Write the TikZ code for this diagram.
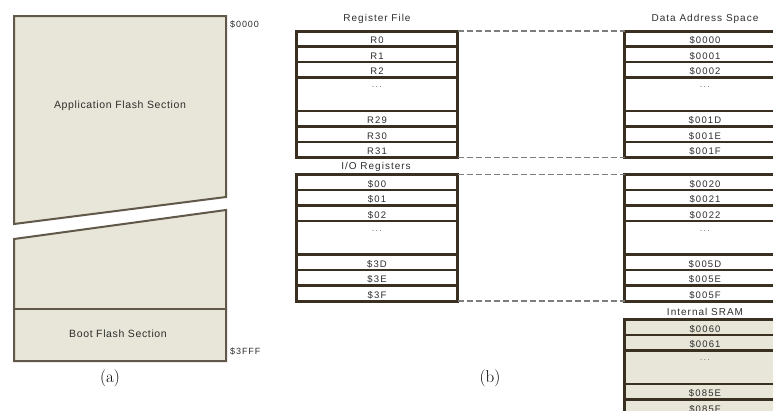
\documentclass[tikz,border=0pt]{standalone}
\usepackage{fontspec}
\newfontfamily\sansA[LetterSpace=6]{Liberation Sans}
\newfontfamily\sansB[LetterSpace=10]{Liberation Sans}
\newfontfamily\sansC[LetterSpace=12]{Liberation Sans}
\definecolor{dk}{RGB}{58,48,34}
\definecolor{abord}{RGB}{96,88,72}
\definecolor{beige}{RGB}{232,230,216}
\definecolor{txt}{RGB}{45,45,45}
\definecolor{dashc}{RGB}{125,125,125}
\begin{document}
\begin{tikzpicture}[x=1pt,y=-1pt,
  secA/.style={draw=abord,line width=2,fill=beige,line join=miter},
  lbl/.style={font=\sansA\fontsize{10.5}{11}\selectfont,text=txt,inner sep=0},
  addr/.style={font=\sansB\fontsize{9}{10}\selectfont,text=txt,inner sep=0},
  ttl/.style={font=\sansB\fontsize{10}{11}\selectfont,text=txt,inner sep=0},
  capt/.style={font=\fontsize{17}{18}\selectfont,text=black,inner sep=0},
  cell/.style={draw=dk,line width=2.5,fill=white,minimum width=161,minimum height=15.5,
    inner sep=0,outer sep=0,text height=10,text depth=0,
    font=\sansC\fontsize{9.5}{10}\selectfont,text=txt},
  ecell/.style={cell,minimum height=33.5,text height=10,text depth=23.5,text=gray},
  scell/.style={cell,fill=beige},
  secell/.style={ecell,fill=beige},
  frame/.style={draw=dk,line width=3,minimum width=161,inner sep=0,outer sep=0},
  dsh/.style={draw=dashc,line width=1.2,dash pattern=on 6.5pt off 2.5pt}]
\useasboundingbox (0,0) rectangle (773,410);
\clip (0,0) rectangle (773,410);

% ---------- (a) ----------
\draw[secA] (14,16) -- (226,16) -- (226,197) -- (14,224) -- cycle;
\draw[secA] (14,239) -- (226,210) -- (226,361) -- (14,361) -- cycle;
\draw[draw=abord,line width=2] (14,309) -- (226,309);
\node[lbl] (app) at (120,106) {Application Flash Section};
\node[lbl] (boot) at (118,334) {Boot Flash Section};
\node[addr,anchor=west] (a0) at (230,24) {\$0000};
\node[addr,anchor=west] (a3) at (230,351) {\$3FFF};
\node[capt] (capa) at (110,378) {(a)};

% ---------- (b) titles ----------
\node[ttl] (rft) at (377,19) {Register File};
\node[ttl] (iot) at (376,167) {I/O Registers};
\node[ttl] (dat) at (705,19) {Data Address Space};
\node[ttl] (srt) at (705,312) {Internal SRAM};
\node[capt] (capb) at (490,378) {(b)};

% Register file
\foreach \o/\l [count=\i] in {0/R0,15.5/R1,31/R2,80/R29,95.5/R30,111/R31}
  \node[cell] (rf\i) at (377,{31+\o+7.75}) {\l};
\node[ecell] (rfe) at (377,{31+46.5+16.75}) {...};
\node[frame,minimum height=126.5] (rf) at (377,{31+63.25}) {};

% I/O registers
\foreach \o/\l [count=\i] in {0/\$00,15.5/\$01,31/\$02,80/\$3D,95.5/\$3E,111/\$3F}
  \node[cell] (io\i) at (377,{174.5+\o+7.75}) {\l};
\node[ecell] (ioe) at (377,{174.5+46.5+16.75}) {...};
\node[frame,minimum height=126.5] (io) at (377,{174.5+63.25}) {};

% Data address space, first block
\foreach \o/\l [count=\i] in {0/\$0000,15.5/\$0001,31/\$0002,80/\$001D,95.5/\$001E,111/\$001F}
  \node[cell] (da\i) at (705,{31+\o+7.75}) {\l};
\node[ecell] (dae) at (705,{31+46.5+16.75}) {...};
\node[frame,minimum height=126.5] (da) at (705,{31+63.25}) {};

% Data address space, second block
\foreach \o/\l [count=\i] in {0/\$0020,15.5/\$0021,31/\$0022,80/\$005D,95.5/\$005E,111/\$005F}
  \node[cell] (db\i) at (705,{174.5+\o+7.75}) {\l};
\node[ecell] (dbe) at (705,{174.5+46.5+16.75}) {...};
\node[frame,minimum height=126.5] (db) at (705,{174.5+63.25}) {};

% Internal SRAM
\foreach \o/\l [count=\i] in {0/\$0060,15.5/\$0061,64.5/\$085E,80/\$085F}
  \node[scell] (sr\i) at (705,{319.5+\o+7.75}) {\l};
\node[secell] (sre) at (705,{319.5+31+16.75}) {...};
\node[frame,minimum height=126.5] (sr) at (705,{319.5+63.25}) {};

% dashed connectors
\draw[dsh] (rf.north east) -- (da.north west);
\draw[dsh] (rf.south east) -- (da.south west);
\draw[dsh] (io.north east) -- (db.north west);
\draw[dsh] (io.south east) -- (db.south west);
\end{tikzpicture}
\end{document}
